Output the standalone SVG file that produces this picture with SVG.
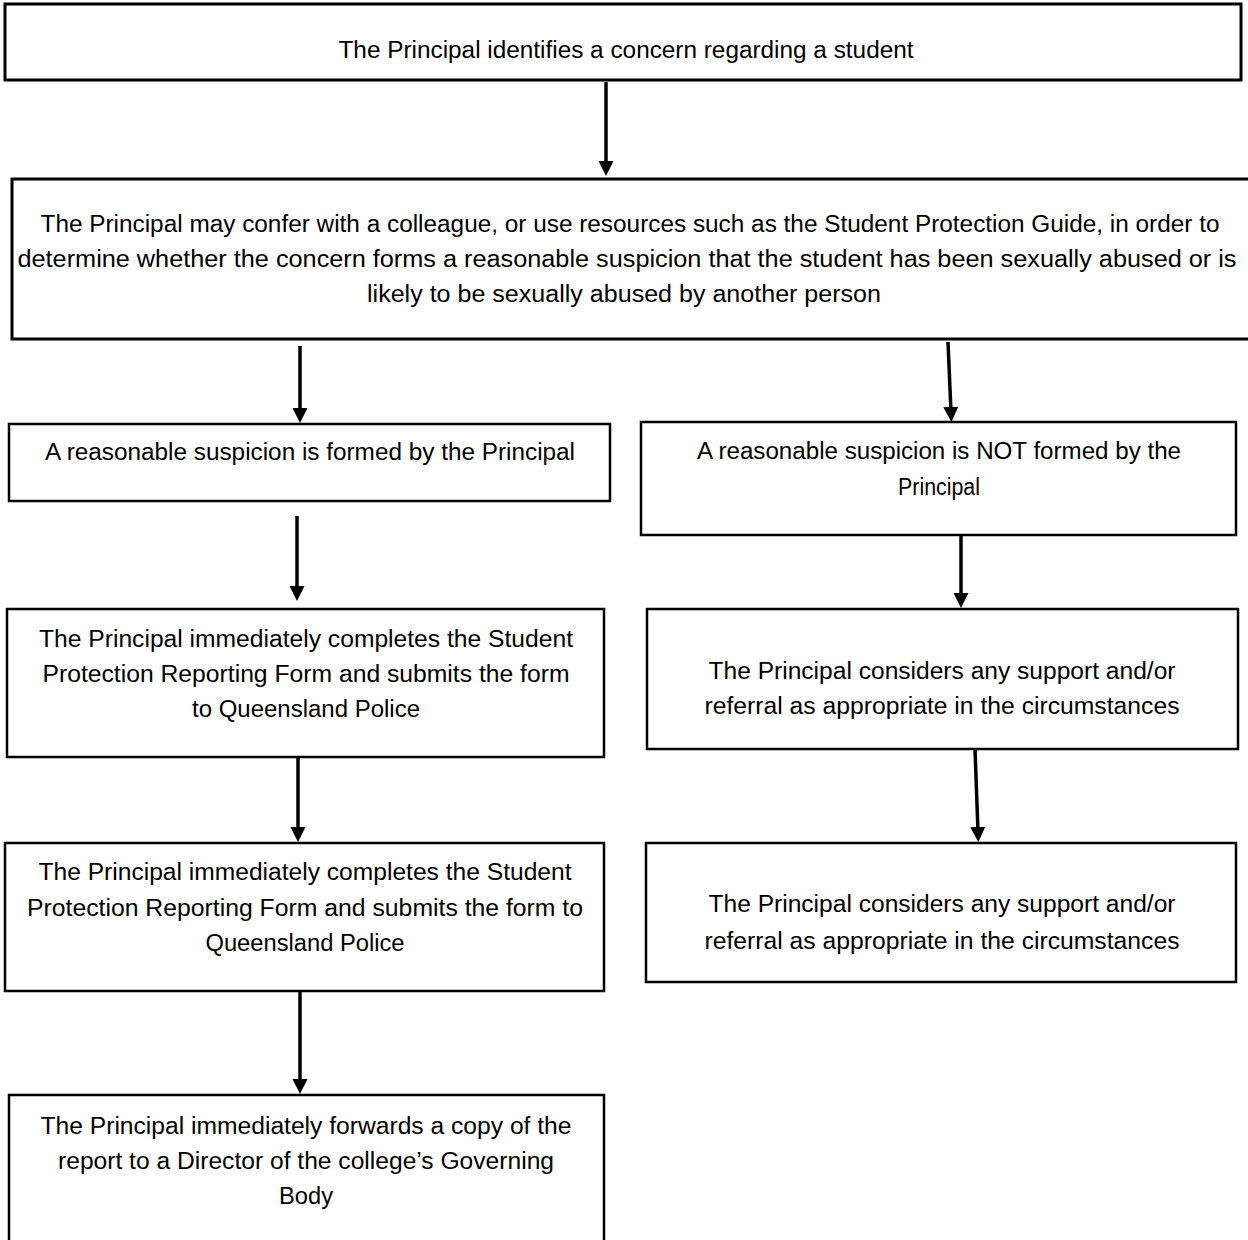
<svg xmlns="http://www.w3.org/2000/svg" width="1248" height="1240" viewBox="0 0 1248 1240">
<defs>
<style>
.box{fill:#fff;stroke:#000;stroke-width:2.5}
.t{font-family:"Liberation Sans",Arial,sans-serif;font-size:23.5px;fill:#000;text-anchor:middle}
.c{stroke:#000;stroke-width:3.5;fill:none;marker-end:url(#ah)}
</style>
<marker id="ah" markerUnits="userSpaceOnUse" markerWidth="16" markerHeight="16" refX="5" refY="8" orient="auto">
<path d="M0,0.5 L15,8 L0,15.5 z" fill="#000"/>
</marker>
</defs>
<rect width="1248" height="1240" fill="#fff"/>

<g id="n1">
<rect class="box" x="5" y="4" width="1236" height="76" style="stroke-width:3"/>
<text class="t" x="626" y="58" textLength="575" lengthAdjust="spacingAndGlyphs">The Principal identifies a concern regarding a student</text>
</g>

<g id="n2">
<rect class="box" x="12" y="179" width="1240" height="160" style="stroke-width:3"/>
<text class="t" x="630" y="232" textLength="1179" lengthAdjust="spacingAndGlyphs">The Principal may confer with a colleague, or use resources such as the Student Protection Guide, in order to</text>
<text class="t" x="627" y="267" textLength="1219" lengthAdjust="spacingAndGlyphs">determine whether the concern forms a reasonable suspicion that the student has been sexually abused or is</text>
<text class="t" x="624" y="302" textLength="514" lengthAdjust="spacingAndGlyphs">likely to be sexually abused by another person</text>
</g>

<g id="n3">
<rect class="box" x="9" y="424" width="601" height="77"/>
<text class="t" x="310" y="460" textLength="530" lengthAdjust="spacingAndGlyphs">A reasonable suspicion is formed by the Principal</text>
</g>

<g id="n4">
<rect class="box" x="641" y="422" width="595" height="113"/>
<text class="t" x="939" y="459" textLength="484" lengthAdjust="spacingAndGlyphs">A reasonable suspicion is NOT formed by the</text>
<text class="t" x="939" y="495" textLength="82" lengthAdjust="spacingAndGlyphs">Principal</text>
</g>

<g id="n5">
<rect class="box" x="7" y="609" width="597" height="148"/>
<text class="t" x="306" y="647" textLength="534" lengthAdjust="spacingAndGlyphs">The Principal immediately completes the Student</text>
<text class="t" x="306" y="682" textLength="527" lengthAdjust="spacingAndGlyphs">Protection Reporting Form and submits the form</text>
<text class="t" x="306" y="717" textLength="228" lengthAdjust="spacingAndGlyphs">to Queensland Police</text>
</g>

<g id="n6">
<rect class="box" x="647" y="609" width="591" height="140"/>
<text class="t" x="942" y="679" textLength="467" lengthAdjust="spacingAndGlyphs">The Principal considers any support and/or</text>
<text class="t" x="942" y="714" textLength="475" lengthAdjust="spacingAndGlyphs">referral as appropriate in the circumstances</text>
</g>

<g id="n7">
<rect class="box" x="5" y="843" width="599" height="148"/>
<text class="t" x="305" y="880" textLength="533" lengthAdjust="spacingAndGlyphs">The Principal immediately completes the Student</text>
<text class="t" x="305" y="916" textLength="556" lengthAdjust="spacingAndGlyphs">Protection Reporting Form and submits the form to</text>
<text class="t" x="305" y="951" textLength="199" lengthAdjust="spacingAndGlyphs">Queensland Police</text>
</g>

<g id="n8">
<rect class="box" x="646" y="843" width="590" height="139"/>
<text class="t" x="942" y="912" textLength="467" lengthAdjust="spacingAndGlyphs">The Principal considers any support and/or</text>
<text class="t" x="942" y="949" textLength="475" lengthAdjust="spacingAndGlyphs">referral as appropriate in the circumstances</text>
</g>

<g id="n9">
<rect class="box" x="9" y="1095" width="595" height="160"/>
<text class="t" x="306" y="1134" textLength="531" lengthAdjust="spacingAndGlyphs">The Principal immediately forwards a copy of the</text>
<text class="t" x="306" y="1169" textLength="496" lengthAdjust="spacingAndGlyphs">report to a Director of the college’s Governing</text>
<text class="t" x="306" y="1204" textLength="54" lengthAdjust="spacingAndGlyphs">Body</text>
</g>

<g id="connectors">
<line class="c" x1="606" y1="82" x2="606" y2="166"/>
<line class="c" x1="300" y1="346" x2="300" y2="413"/>
<line class="c" x1="948" y1="342" x2="951" y2="412"/>
<line class="c" x1="297" y1="516" x2="297" y2="591"/>
<line class="c" x1="961" y1="535" x2="961" y2="598"/>
<line class="c" x1="298" y1="757" x2="298" y2="832"/>
<line class="c" x1="975" y1="749" x2="978" y2="832"/>
<line class="c" x1="300" y1="991" x2="300" y2="1084"/>
</g>
</svg>
